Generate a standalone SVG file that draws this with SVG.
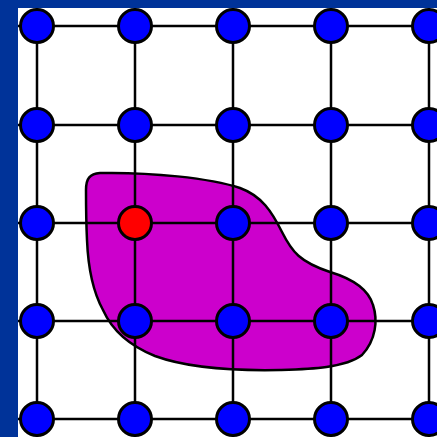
<svg xmlns="http://www.w3.org/2000/svg" width="437" height="437" viewBox="0 0 437 437">
  <style>
    .grid { stroke: #000; stroke-width: 2.5; fill: none; }
    .node { fill: #0000FF; stroke: #000; stroke-width: 3; }
    .node.red { fill: #FF0000; }
    .blob { fill: #CC00CC; stroke: #000; stroke-width: 2.5; }
  </style>
  <rect x="0" y="0" width="437" height="437" fill="#FFFFFF"/>
  <path class="blob" d="M 86,190 C 86,178 90,174 100,173 C 150,172 210,178 240,188 C 262,196 272,212 282,232 C 292,252 300,262 330,272 C 350,278 368,288 373,305 C 378,320 376,340 362,355 C 345,368 310,369 280,370 C 230,371 185,367 155,356 C 130,346 112,330 103,310 C 92,290 88,265 87,240 C 86,220 86,200 86,190 Z"/>
  <g id="connectors">
    <line class="grid" x1="18" y1="26" x2="437" y2="26"/>
    <line class="grid" x1="18" y1="125" x2="437" y2="125"/>
    <line class="grid" x1="18" y1="223" x2="437" y2="223"/>
    <line class="grid" x1="18" y1="321" x2="437" y2="321"/>
    <line class="grid" x1="18" y1="419" x2="437" y2="419"/>
    <line class="grid" x1="37" y1="8" x2="37" y2="437"/>
    <line class="grid" x1="135" y1="8" x2="135" y2="437"/>
    <line class="grid" x1="233" y1="8" x2="233" y2="437"/>
    <line class="grid" x1="331" y1="8" x2="331" y2="437"/>
    <line class="grid" x1="429" y1="8" x2="429" y2="437"/>
  </g>
  <g id="n-0-0"><circle class="node" cx="37" cy="26" r="16.5"/></g>
  <g id="n-1-0"><circle class="node" cx="135" cy="26" r="16.5"/></g>
  <g id="n-2-0"><circle class="node" cx="233" cy="26" r="16.5"/></g>
  <g id="n-3-0"><circle class="node" cx="331" cy="26" r="16.5"/></g>
  <g id="n-4-0"><circle class="node" cx="429" cy="26" r="16.5"/></g>
  <g id="n-0-1"><circle class="node" cx="37" cy="125" r="16.5"/></g>
  <g id="n-1-1"><circle class="node" cx="135" cy="125" r="16.5"/></g>
  <g id="n-2-1"><circle class="node" cx="233" cy="125" r="16.5"/></g>
  <g id="n-3-1"><circle class="node" cx="331" cy="125" r="16.5"/></g>
  <g id="n-4-1"><circle class="node" cx="429" cy="125" r="16.5"/></g>
  <g id="n-0-2"><circle class="node" cx="37" cy="223" r="16.5"/></g>
  <g id="n-1-2"><circle class="node red" cx="135" cy="223" r="16.5"/></g>
  <g id="n-2-2"><circle class="node" cx="233" cy="223" r="16.5"/></g>
  <g id="n-3-2"><circle class="node" cx="331" cy="223" r="16.5"/></g>
  <g id="n-4-2"><circle class="node" cx="429" cy="223" r="16.5"/></g>
  <g id="n-0-3"><circle class="node" cx="37" cy="321" r="16.5"/></g>
  <g id="n-1-3"><circle class="node" cx="135" cy="321" r="16.5"/></g>
  <g id="n-2-3"><circle class="node" cx="233" cy="321" r="16.5"/></g>
  <g id="n-3-3"><circle class="node" cx="331" cy="321" r="16.5"/></g>
  <g id="n-4-3"><circle class="node" cx="429" cy="321" r="16.5"/></g>
  <g id="n-0-4"><circle class="node" cx="37" cy="419" r="16.5"/></g>
  <g id="n-1-4"><circle class="node" cx="135" cy="419" r="16.5"/></g>
  <g id="n-2-4"><circle class="node" cx="233" cy="419" r="16.5"/></g>
  <g id="n-3-4"><circle class="node" cx="331" cy="419" r="16.5"/></g>
  <g id="n-4-4"><circle class="node" cx="429" cy="419" r="16.5"/></g>
  <rect x="0" y="0" width="18" height="437" fill="#003399"/>
  <rect x="0" y="0" width="437" height="8" fill="#003399"/>
</svg>
